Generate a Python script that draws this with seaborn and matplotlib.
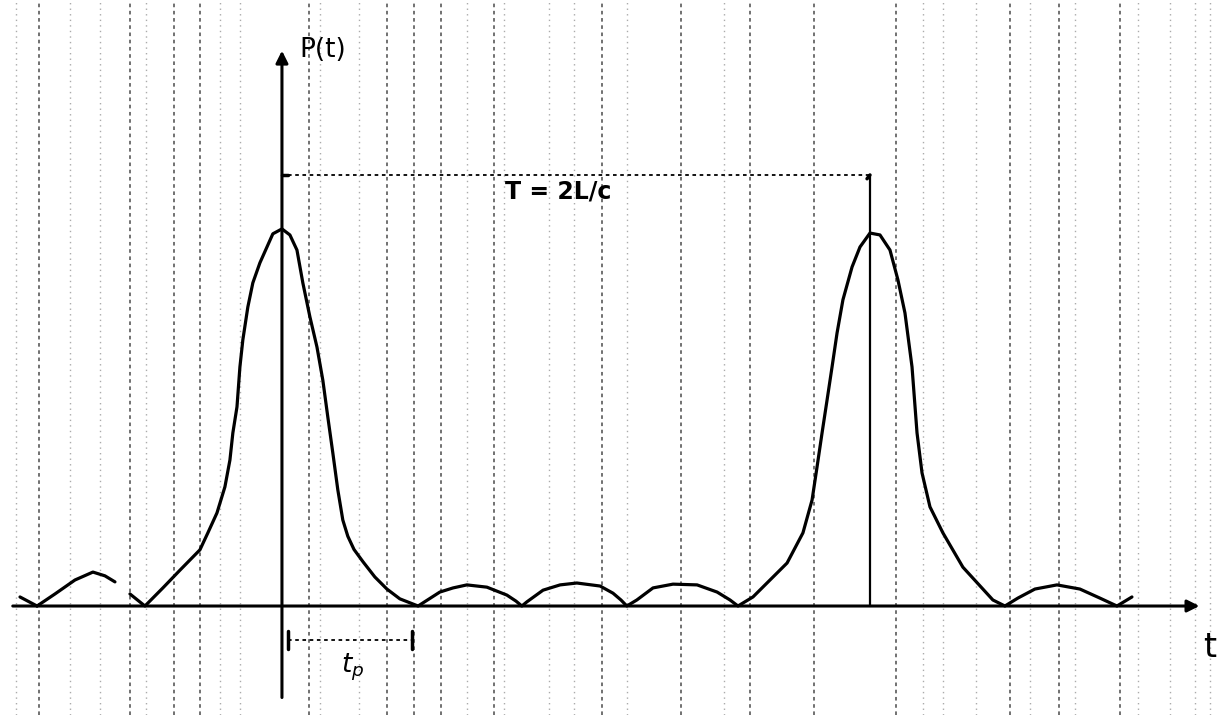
import pandas as pd
import matplotlib
matplotlib.use('Agg')
import matplotlib.pyplot as plt
import seaborn as sns

t = [-0.891, -0.833,
     -0.833, -0.772, -0.704, -0.643, -0.602, -0.568,
     # главный импульс
     -0.517, -0.466, -0.405, -0.347, -0.279, -0.252, -0.221, -0.194, -0.177, -0.167,
     -0.153, -0.143, -0.133, -0.116, -0.099, -0.075, -0.051, -0.031, 0.0, 0.027,
     0.051, 0.071, 0.095, 0.119, 0.139, 0.156, 0.173, 0.190, 0.207, 0.224, 0.245,
     0.276, 0.316, 0.357, 0.401,
     # боковые лепестки
     0.463, 0.537, 0.582, 0.629, 0.697, 0.765, 0.796, 0.816,
     0.833, 0.888, 0.946, 1.003, 1.082, 1.126, 1.153, 1.173,
     1.207, 1.262, 1.330, 1.412, 1.480, 1.524,
     # второй импульс
     1.551, 1.602, 1.660, 1.718, 1.772, 1.803, 1.820, 1.837, 1.854, 1.871,
     1.888, 1.908, 1.939, 1.966, 2.000, 2.034, 2.068, 2.095, 2.119, 2.143,
     2.160, 2.177, 2.204, 2.248, 2.316, 2.418,
     2.459, 2.503, 2.561, 2.636, 2.714, 2.782, 2.840, 2.891]
P = [0.024, 0.0,
     0.0, 0.032, 0.069, 0.090, 0.080, 0.064,
     0.032, 0.0, 0.048, 0.095, 0.149, 0.194, 0.247, 0.316, 0.387, 0.459,
     0.528, 0.634, 0.706, 0.793, 0.857, 0.910, 0.952, 0.987, 1.0, 0.984,
     0.944, 0.857, 0.767, 0.687, 0.599, 0.501, 0.406, 0.308, 0.228, 0.185, 0.150,
     0.117, 0.077, 0.045, 0.019,
     0.0, 0.037, 0.048, 0.056, 0.050, 0.029, 0.013, 0.0,
     0.011, 0.042, 0.056, 0.061, 0.053, 0.034, 0.016, 0.0,
     0.016, 0.048, 0.058, 0.056, 0.037, 0.016,
     0.0, 0.024, 0.069, 0.114, 0.194, 0.281, 0.369, 0.459, 0.546, 0.634,
     0.724, 0.812, 0.899, 0.952, 0.989, 0.984, 0.944, 0.865, 0.777, 0.634,
     0.459, 0.353, 0.263, 0.194, 0.103, 0.016,
     0.0, 0.021, 0.045, 0.056, 0.045, 0.021, 0.0, 0.024]
# куски кривой: штрих слева, левый лепесток, основная линия
seg = [0] * 2 + [1] * 6 + [2] * (len(t) - 8)

T_level = 1.143      # уровень отметки T = 2L/c
T_period = 2.0
tp_end = 0.442       # конец отрезка t_p

# линии миллиметровки (фон скана)
paper_strong = [-0.827, -0.517, -0.367, -0.279, 0.092, 0.357, 0.449, 0.541, 0.721,
                1.088, 1.357, 1.592, 1.810, 2.088, 2.476, 2.643, 2.850]
paper_faint = [-0.905, -0.721, -0.619, -0.463, -0.211, -0.143, 0.129, 0.262, 0.629,
               0.755, 0.908, 0.993, 1.173, 1.503, 2.180, 2.248, 2.361, 2.544, 2.697,
               2.912, 3.020, 3.105, 3.156]

sns.set_style('white')
fig = plt.figure(figsize=(12.23, 7.15), dpi=100)
ax = fig.add_axes([0, 0, 1, 1])
ax.set_xlim(-0.959, 3.2007)
ax.set_ylim(-0.289, 1.607)
ax.axis('off')

for x in paper_strong:
    ax.axvline(x, color='0.25', lw=1.3, ls=(0, (2, 2)), alpha=0.8, zorder=0)
for x in paper_faint:
    ax.axvline(x, color='0.45', lw=1.0, ls=(0, (1, 3)), alpha=0.6, zorder=0)

df = pd.DataFrame({'t': t, 'P': P, 'seg': seg})
sns.lineplot(data=df, x='t', y='P', units='seg', estimator=None, sort=False,
             color='black', lw=2.3, ax=ax, legend=False,
             solid_joinstyle='round', solid_capstyle='round')

# оси
ax.annotate('', xy=(3.13, 0), xytext=(-0.925, 0),
            arrowprops=dict(arrowstyle='-|>', color='black', lw=2.2, mutation_scale=18))
ax.annotate('', xy=(0, 1.48), xytext=(0, -0.25),
            arrowprops=dict(arrowstyle='-|>', color='black', lw=2.2, mutation_scale=18))

# отметка периода
ax.plot([0.02, T_period], [T_level, T_level], color='black', lw=1.3, ls=(0, (2, 2)))
ax.plot([T_period, T_period], [0, T_level], color='black', lw=1.6)
ax.plot([0, 0.02], [T_level, T_level], color='black', lw=2.5)
ax.plot([T_period - 0.01, T_period], [T_level - 0.01, T_level], color='black', lw=2.5)

# отрезок t_p
ax.plot([0.02, tp_end], [-0.09, -0.09], color='black', lw=1.3, ls=(0, (2, 2)))
ax.plot([0.02, 0.02], [-0.065, -0.115], color='black', lw=2.5)
ax.plot([tp_end, tp_end], [-0.065, -0.115], color='black', lw=2.5)

ax.text(0.06, 1.475, 'P(t)', fontsize=19, ha='left', va='center', color='black')
ax.text(0.76, 1.098, 'T = 2L/c', fontsize=17, ha='left', va='center',
        fontweight='bold', color='black')
ax.text(0.24, -0.162, '$t_p$', fontsize=19, ha='center', va='center', color='black')
ax.text(3.156, -0.111, 't', fontsize=24, ha='center', va='center', color='black')

plt.savefig('out.png', dpi=100)
